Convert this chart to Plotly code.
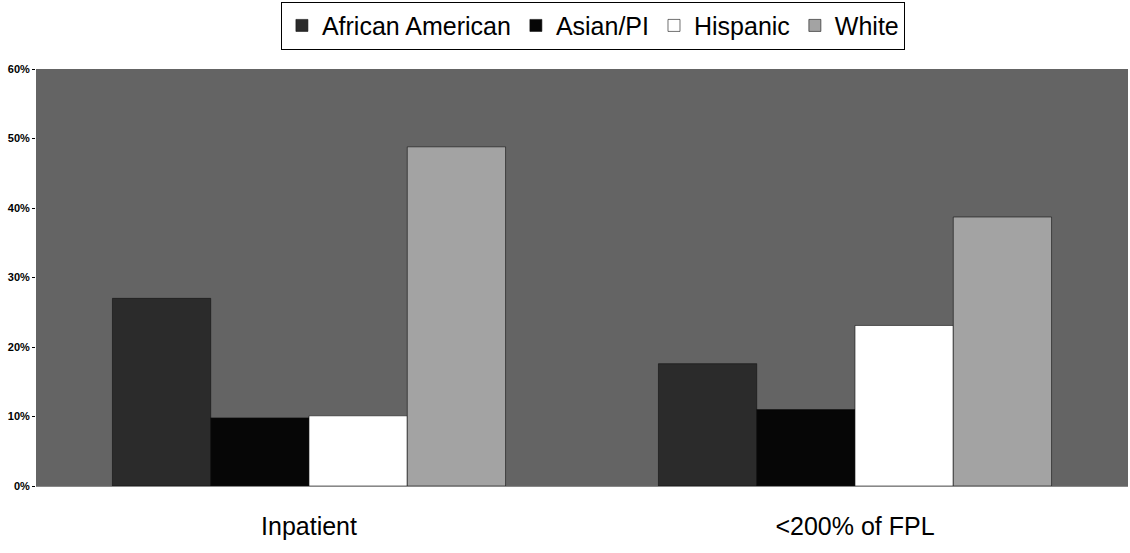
import plotly.graph_objects as go

categories = ["Inpatient", "<200% of FPL"]
african_american = [27.0, 17.6]
asian_pi = [9.8, 11.0]
hispanic = [10.1, 23.1]
white = [48.8, 38.7]

series = [
    ("African American", african_american, "#2b2b2b"),
    ("Asian/PI", asian_pi, "#060606"),
    ("Hispanic", hispanic, "#ffffff"),
    ("White", white, "#a3a3a3"),
]

fig = go.Figure()
for name, vals, color in series:
    fig.add_trace(go.Bar(
        name=name,
        x=categories,
        y=vals,
        marker=dict(color=color, line=dict(color="#111111", width=0.6)),
    ))

fig.update_layout(
    width=1130,
    height=553,
    barmode="group",
    bargap=0.28,
    bargroupgap=0,
    paper_bgcolor="white",
    plot_bgcolor="#646464",
    margin=dict(l=36, r=2, t=69, b=67),
    font=dict(family="Liberation Sans, Arial, sans-serif", color="black"),
    legend=dict(
        orientation="h",
        x=0.51,
        xanchor="center",
        y=0.997,
        yanchor="top",
        yref="container",
        font=dict(size=25),
        bordercolor="black",
        borderwidth=1,
        bgcolor="white",
        itemwidth=30,
        traceorder="normal",
        tracegroupgap=0,
    ),
    showlegend=True,
)

fig.update_xaxes(
    showgrid=False,
    tickfont=dict(size=25),
    ticks="",
    ticklabelstandoff=18,
    showline=True,
    linecolor="#888888",
    linewidth=1,
)
fig.update_yaxes(
    range=[0, 60],
    dtick=10,
    ticksuffix="%",
    showgrid=False,
    zeroline=False,
    tickfont=dict(size=11, family="Liberation Sans, Arial, sans-serif", weight="bold", color="black"),
    ticks="outside",
    ticklen=3,
    tickcolor="black",
)

fig.write_html("out.html")
